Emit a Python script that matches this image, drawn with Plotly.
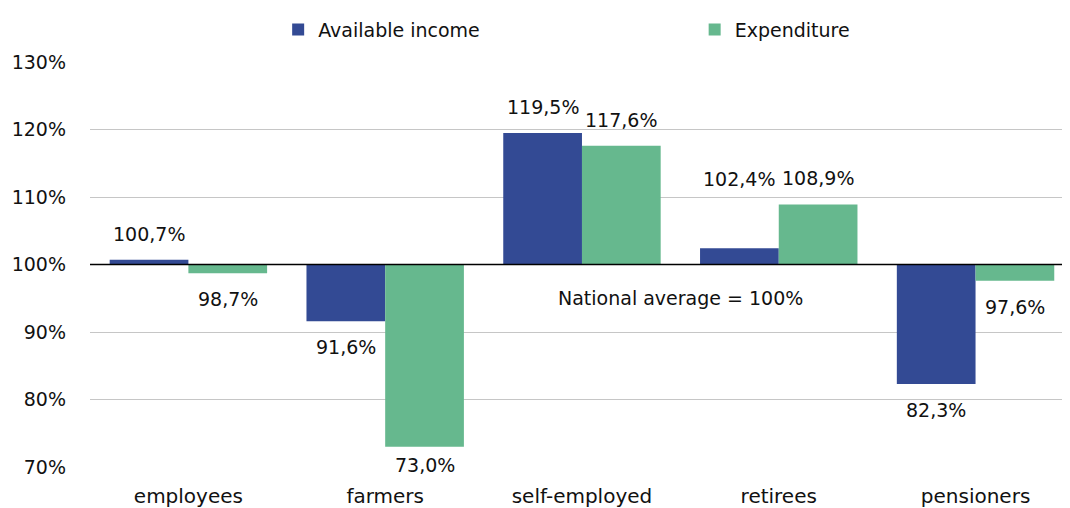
import plotly.graph_objects as go

# ── DATA ─────────────────────────────────────────────────
groups      = ["employees", "farmers", "self-employed", "retirees", "pensioners"]
income      = [100.7, 91.6, 119.5, 102.4, 82.3]
expenditure = [98.7, 73.0, 117.6, 108.9, 97.6]
y_ticks     = [70, 80, 90, 100, 110, 120, 130]
BASE        = 100

# ── STYLE ────────────────────────────────────────────────
BLUE  = "#334A94"
GREEN = "#66B88E"
GRID  = "#C6C6C6"
INK   = "#111111"
FONT  = "DejaVu Sans"
FS    = 19
BAR_HALF = 0.2        # half of a bar's width in category units (bargap 0.2, 2 bars)
LABEL_GAP = 26        # px between bar end and label centre
# the source moved a couple of labels by hand
NUDGE = {("retirees", "Available income"): 43,
         ("farmers", "Expenditure"): 8}


def fmt(v):
    return f"{v:.1f}%".replace(".", ",")


fig = go.Figure()
series = [("Available income", income, BLUE, "legend", -1),
          ("Expenditure", expenditure, GREEN, "legend2", 1)]
for name, vals, col, leg, side in series:
    fig.add_trace(go.Bar(
        x=groups,
        y=[v - BASE for v in vals],
        base=BASE,
        name=name,
        legend=leg,
        marker=dict(color=col, line=dict(width=0)),
        hovertemplate="%{x}: %{customdata}<extra>" + name + "</extra>",
        customdata=[fmt(v) for v in vals],
    ))
    for i, (g, v) in enumerate(zip(groups, vals)):
        up = 1 if v >= BASE else -1
        fig.add_annotation(
            x=i + side * BAR_HALF, y=v, xref="x", yref="y",
            text=fmt(v), showarrow=False,
            yshift=up * LABEL_GAP + NUDGE.get((g, name), 0),
            font=dict(size=FS, color=INK, family=FONT),
        )

# black reference line at the national average
fig.add_shape(type="line", xref="paper", yref="y", x0=0, x1=1,
              y0=BASE, y1=BASE, line=dict(color="black", width=1.5))
fig.add_annotation(x=2.5, y=95.1, xref="x", yref="y",
                   text="National average = 100%", showarrow=False,
                   font=dict(size=FS, color=INK, family=FONT))

leg_style = dict(
    orientation="h", y=1.08, yanchor="middle", xanchor="left",
    font=dict(size=FS, color=INK, family=FONT),
    bgcolor="rgba(0,0,0,0)", itemwidth=30,
)
fig.update_layout(
    width=1062, height=500,
    barmode="group", bargap=0.2, bargroupgap=0,
    plot_bgcolor="white", paper_bgcolor="white",
    font=dict(family=FONT, size=FS, color=INK),
    margin=dict(l=82, r=0, t=54, b=41),
    showlegend=True,
    legend=dict(leg_style, x=0.192),
    legend2=dict(leg_style, x=0.617),
)
fig.update_xaxes(
    range=[-0.5, 4.48], showgrid=False, showline=False, zeroline=False,
    ticks="", ticklabelstandoff=15, automargin=False,
    tickfont=dict(size=20, color=INK, family=FONT),
)
fig.update_yaxes(
    range=[70, 130], tickvals=y_ticks, ticktext=[f"{t}%" for t in y_ticks],
    showgrid=True, gridcolor=GRID, gridwidth=1.2, zeroline=False,
    showline=False, ticks="", ticklabelstandoff=23, automargin=False,
    tickfont=dict(size=FS, color=INK, family=FONT),
)

fig.write_html("out.html")
